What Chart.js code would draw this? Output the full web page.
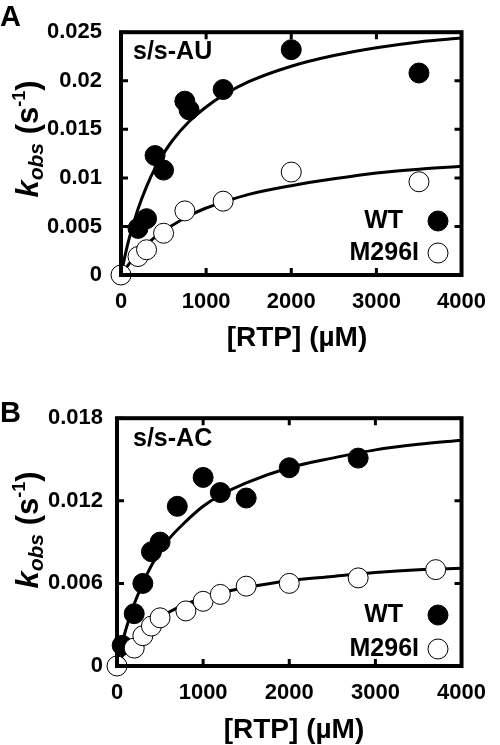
<!DOCTYPE html>
<html>
<head>
<meta charset="utf-8">
<script src="https://cdn.jsdelivr.net/npm/chart.js@4/dist/chart.umd.min.js"></script>
<style>
  html, body { margin: 0; padding: 0; background: #fff; }
  body { width: 500px; height: 745px; position: relative; overflow: hidden; font-family: "Liberation Sans", Arial, sans-serif; }
  canvas { position: absolute; left: 0; }
  .lbl { position: absolute; font-weight: bold; color: #000; white-space: nowrap; }
  .panel { font-size: 29px; line-height: 29px; }
  .xt { font-size: 28px; line-height: 30px; width: 300px; text-align: center; }
  .yt { font-size: 31px; line-height: 40px; width: 300px; height: 40px; text-align: center; transform: rotate(-90deg); }
  .yt sub { font-size: 21px; vertical-align: -5px; }
  .yt sup { font-size: 18px; vertical-align: 13px; }
</style>
</head>
<body>
<canvas id="cA" width="500" height="370" style="top:0px"></canvas>
<canvas id="cB" width="500" height="354" style="top:391px"></canvas>

<div class="lbl panel" style="left:0px; top:2px;">A</div>
<div class="lbl panel" style="left:0px; top:398px;">B</div>
<div class="lbl yt" style="left:-131px; top:119px;"><i>k<sub>obs</sub></i> (s<sup>-1</sup>)</div>
<div class="lbl yt" style="left:-131px; top:510px;"><i>k<sub>obs</sub></i> (s<sup>-1</sup>)</div>
<div class="lbl xt" style="left:147px; top:322px;">[RTP] (µM)</div>
<div class="lbl xt" style="left:144px; top:714px;">[RTP] (µM)</div>

<script>
// ---------- Data ----------
// Panel A: s/s-AU
const rtpA_WT  = [200, 300, 400, 500, 750, 800, 1200, 2000, 3500];
const kobsA_WT = [0.0048, 0.0058, 0.0123, 0.0108, 0.0179, 0.0170, 0.0191, 0.0232, 0.0208];
const rtpA_M   = [0, 200, 300, 500, 750, 1200, 2000, 3500];
const kobsA_M  = [0, 0.0019, 0.0026, 0.0043, 0.0066, 0.0076, 0.0106, 0.0096];

// Panel B: s/s-AC
const rtpB_WT  = [60, 200, 300, 400, 500, 700, 1000, 1200, 1500, 2000, 2800];
const kobsB_WT = [0.0015, 0.0038, 0.0060, 0.0083, 0.0090, 0.0116, 0.0137, 0.0126, 0.0122, 0.0144, 0.0151];
const rtpB_M   = [0, 200, 300, 400, 500, 800, 1000, 1200, 1500, 2000, 2800, 3700];
const kobsB_M  = [0, 0.0013, 0.0022, 0.0029, 0.0035, 0.0040, 0.0047, 0.0052, 0.0058, 0.0060, 0.0064, 0.0070];

// Fitted curves
const curveX    = [0, 50, 100, 200, 300, 400, 500, 600, 800, 1000, 1200, 1500, 2000, 2500, 3000, 3500, 4000];
const curveA_WT = [0, 0.0021, 0.0039, 0.0068, 0.0091, 0.0110, 0.0125, 0.0138, 0.0158, 0.0173, 0.0185, 0.0199, 0.0215, 0.0226, 0.0234, 0.0240, 0.0244];
const curveA_M  = [0, 0.0006, 0.0012, 0.0022, 0.0031, 0.0039, 0.0045, 0.0051, 0.0061, 0.0069, 0.0075, 0.0083, 0.0092, 0.0099, 0.0105, 0.0109, 0.0112];
const curveB_WT = [0, 0.0014, 0.0026, 0.0045, 0.0060, 0.0073, 0.0083, 0.0092, 0.0105, 0.0116, 0.0124, 0.0133, 0.0144, 0.0151, 0.0157, 0.0161, 0.0164];
const curveB_M  = [0, 0.0006, 0.0011, 0.0019, 0.0025, 0.0031, 0.0035, 0.0039, 0.0045, 0.0049, 0.0053, 0.0057, 0.0062, 0.0065, 0.0068, 0.0070, 0.0071];

// Tick labels
const xTicks  = [0, 1000, 2000, 3000, 4000];
const yTicksA = [0, 0.005, 0.01, 0.015, 0.02, 0.025];
const yTickLabelsA = ['0', '0.005', '0.01', '0.015', '0.02', '0.025'];
const yTicksB = [0, 0.006, 0.012, 0.018];
const yTickLabelsB = ['0', '0.006', '0.012', '0.018'];

const seriesNames = ['WT', 'M296I'];
const panelLabels = ['s/s-AU', 's/s-AC'];

// ---------- helpers ----------
const pts = (xs, ys) => xs.map((x, i) => ({ x: x, y: ys[i] }));
const FONT = '"Liberation Sans", Arial, sans-serif';

const framePlugin = {
  id: 'frame',
  afterDatasetsDraw(chart, args, opts) {
    const ctx = chart.ctx, a = chart.chartArea;
    const xs = chart.scales.x, ys = chart.scales.y;
    ctx.save();
    ctx.strokeStyle = '#000';
    ctx.lineWidth = 3;
    const L = 7;
    ctx.beginPath();
    opts.xTicks.forEach(v => {
      const px = xs.getPixelForValue(v);
      ctx.moveTo(px, a.bottom); ctx.lineTo(px, a.bottom - L);
      ctx.moveTo(px, a.top); ctx.lineTo(px, a.top + L);
    });
    opts.yTicks.forEach(v => {
      const py = ys.getPixelForValue(v);
      ctx.moveTo(a.left, py); ctx.lineTo(a.left + L, py);
      ctx.moveTo(a.right, py); ctx.lineTo(a.right - L, py);
    });
    ctx.stroke();
    ctx.lineWidth = 4;
    ctx.strokeRect(a.left, a.top, a.right - a.left, a.bottom - a.top);
    ctx.restore();
  },
  afterDraw(chart, args, opts) {
    const ctx = chart.ctx;
    ctx.save();
    ctx.fillStyle = '#000';
    ctx.textBaseline = 'middle';
    ctx.font = 'bold 25px ' + FONT;
    ctx.textAlign = 'left';
    ctx.fillText(opts.title, opts.titlePos[0], opts.titlePos[1]);
    ctx.textAlign = 'right';
    opts.legend.forEach(item => {
      const ds = chart.data.datasets[item.ds];
      ctx.fillStyle = '#000';
      ctx.fillText(ds.label, item.tx, item.y);
      ctx.beginPath();
      ctx.arc(item.mx, item.y, 10, 0, Math.PI * 2);
      ctx.fillStyle = ds.pointBackgroundColor;
      ctx.fill();
      ctx.lineWidth = 1;
      ctx.strokeStyle = '#000';
      ctx.stroke();
    });
    ctx.restore();
  }
};

function makeChart(id, cfg) {
  const datasets = [
    { label: seriesNames[1], data: pts(cfg.rtpM, cfg.kobsM), showLine: false, order: 0,
      pointRadius: 10, pointHoverRadius: 10, pointBackgroundColor: '#ffffff', pointBorderColor: '#000', pointBorderWidth: 1 },
    { label: seriesNames[0], data: pts(cfg.rtpWT, cfg.kobsWT), showLine: false, order: 1,
      pointRadius: 10, pointHoverRadius: 10, pointBackgroundColor: '#000000', pointBorderColor: '#000', pointBorderWidth: 1 },
    { label: 'fit M', data: pts(curveX, cfg.curveM), showLine: true, order: 2, pointRadius: 0,
      borderColor: '#000', borderWidth: 3, cubicInterpolationMode: 'monotone', fill: false },
    { label: 'fit WT', data: pts(curveX, cfg.curveWT), showLine: true, order: 3, pointRadius: 0,
      borderColor: '#000', borderWidth: 3, cubicInterpolationMode: 'monotone', fill: false }
  ];
  return new Chart(document.getElementById(id), {
    type: 'scatter',
    data: { datasets },
    plugins: [framePlugin],
    options: {
      responsive: false,
      animation: false,
      clip: false,
      layout: { padding: { left: 0, top: 23, right: cfg.padRight, bottom: cfg.padBottom } },
      plugins: {
        legend: { display: false },
        tooltip: { enabled: false },
        frame: { xTicks: xTicks, yTicks: cfg.yTicks, title: cfg.title, titlePos: cfg.titlePos, legend: cfg.legend }
      },
      scales: {
        x: {
          type: 'linear', min: 0, max: 4000,
          grid: { display: false, drawTicks: false },
          border: { display: false },
          afterBuildTicks: s => { s.ticks = xTicks.map(v => ({ value: v })); },
          afterFit: s => { s.height = 75; },
          ticks: { color: '#000', padding: 14, maxRotation: 0, font: { family: FONT, weight: 'bold', size: 22 },
                   callback: v => String(v) }
        },
        y: {
          type: 'linear', min: 0, max: cfg.yMax,
          grid: { display: false, drawTicks: false },
          border: { display: false },
          afterBuildTicks: s => { s.ticks = cfg.yTicks.map(v => ({ value: v })); },
          afterFit: s => { s.width = cfg.left; },
          ticks: { color: '#000', padding: cfg.yPad, font: { family: FONT, weight: 'bold', size: 22 },
                   callback: (v) => { const i = cfg.yTicks.findIndex(t => Math.abs(t - v) < 1e-9); return i >= 0 ? cfg.yLabels[i] : ''; } }
        }
      }
    }
  });
}

makeChart('cA', {
  rtpWT: rtpA_WT, kobsWT: kobsA_WT, rtpM: rtpA_M, kobsM: kobsA_M,
  curveWT: curveA_WT, curveM: curveA_M,
  yMax: 0.025, yTicks: yTicksA, yLabels: yTickLabelsA,
  left: 121, padRight: 28, padBottom: 20, yPad: 19,
  title: panelLabels[0], titlePos: [133, 52],
  legend: [ { ds: 1, tx: 403, mx: 438, y: 221 }, { ds: 0, tx: 419, mx: 438, y: 253 } ]
});

makeChart('cB', {
  rtpWT: rtpB_WT, kobsWT: kobsB_WT, rtpM: rtpB_M, kobsM: kobsB_M,
  curveWT: curveB_WT, curveM: curveB_M,
  yMax: 0.018, yTicks: yTicksB, yLabels: yTickLabelsB,
  left: 117, padRight: 31, padBottom: 4, yPad: 14,
  title: panelLabels[1], titlePos: [133, 48],
  legend: [ { ds: 1, tx: 403, mx: 438, y: 224 }, { ds: 0, tx: 419, mx: 438, y: 258 } ]
});
</script>
</body>
</html>
